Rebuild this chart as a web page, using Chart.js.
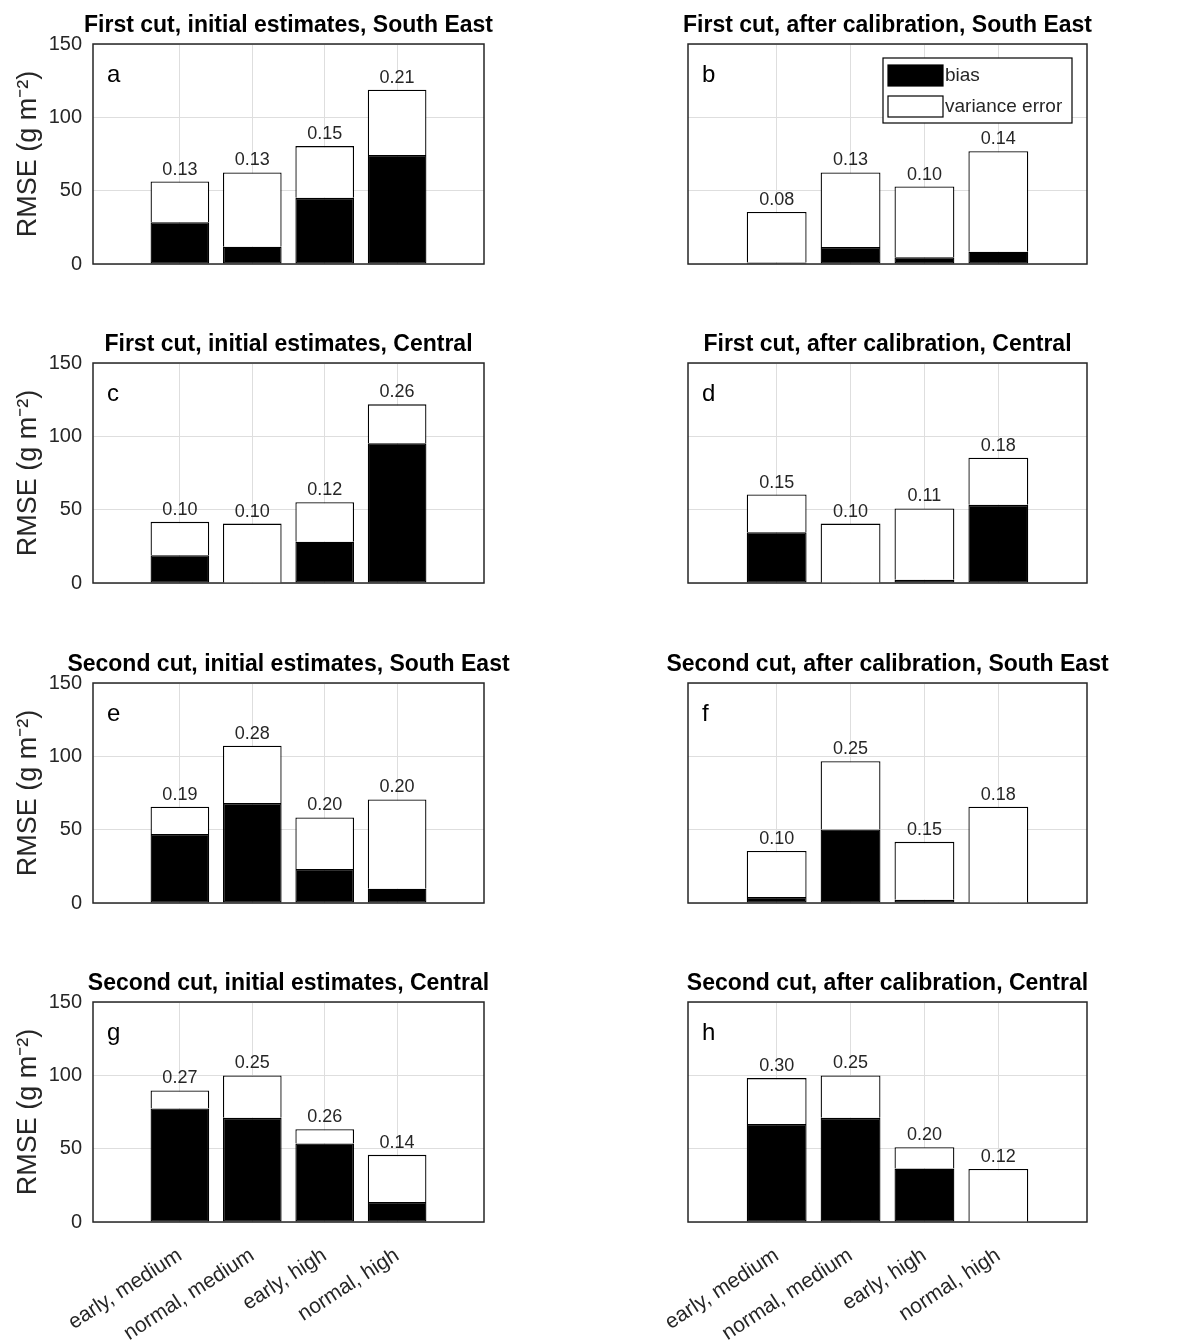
<!DOCTYPE html>
<html lang="en">
<head>
<meta charset="UTF-8">
<title>RMSE: bias and variance error</title>
<script src="https://cdn.jsdelivr.net/npm/chart.js"></script>
<style>
    body {
        margin: 0;
        background: #fff;
        width: 1189px;
        height: 1341px;
        position: relative;
        overflow: hidden;
    }

    .panel {
        position: absolute;
    }
</style>
</head>
<body>

<div class="panel" style="left:0;top:0;width:524px;height:288px"><canvas id="c0"></canvas></div>
<div class="panel" style="left:595px;top:0;width:532px;height:288px"><canvas id="c1"></canvas></div>
<div class="panel" style="left:0;top:319px;width:524px;height:288px"><canvas id="c2"></canvas></div>
<div class="panel" style="left:595px;top:319px;width:532px;height:288px"><canvas id="c3"></canvas></div>
<div class="panel" style="left:0;top:639px;width:524px;height:288px"><canvas id="c4"></canvas></div>
<div class="panel" style="left:595px;top:639px;width:532px;height:288px"><canvas id="c5"></canvas></div>
<div class="panel" style="left:0;top:958px;width:524px;height:383px"><canvas id="c6"></canvas></div>
<div class="panel" style="left:595px;top:958px;width:532px;height:383px"><canvas id="c7"></canvas></div>

<script>
    // data, one row per panel (a..h)
    const categories = ['early, medium', 'normal, medium', 'early, high', 'normal, high'];
    const panelTitles = [
        'First cut, initial estimates, South East',
        'First cut, after calibration, South East',
        'First cut, initial estimates, Central',
        'First cut, after calibration, Central',
        'Second cut, initial estimates, South East',
        'Second cut, after calibration, South East',
        'Second cut, initial estimates, Central',
        'Second cut, after calibration, Central'
    ];
    const panelLetters = ['a', 'b', 'c', 'd', 'e', 'f', 'g', 'h'];

    // total RMSE (top of each bar)
    const rmseTotal = [
        [56.2, 62.4, 80.4, 118.8],
        [35.5, 62.4, 52.8, 76.9],
        [41.7, 40.5, 55.1, 121.8],
        [60.3, 40.5, 50.8, 85.4],
        [65.6, 107.2, 58.3, 70.6],
        [35.5, 96.7, 41.7, 65.6],
        [89.7, 99.9, 63.3, 45.8],
        [98.1, 99.9, 51.0, 36.2]
    ];
    // bias part (black)
    const rmseBias = [
        [28.5, 11.8, 45.1, 74.4],
        [1.1, 11.6, 4.6, 8.4],
        [18.9, 0, 28.2, 95.2],
        [34.6, 0, 2.3, 53.3],
        [47.1, 68.1, 23.2, 9.8],
        [4.1, 50.1, 2.3, 0],
        [77.4, 71.0, 53.5, 13.7],
        [66.9, 71.0, 36.4, 0]
    ];
    // numbers printed above the bars
    const relRmse = [
        ['0.13', '0.13', '0.15', '0.21'],
        ['0.08', '0.13', '0.10', '0.14'],
        ['0.10', '0.10', '0.12', '0.26'],
        ['0.15', '0.10', '0.11', '0.18'],
        ['0.19', '0.28', '0.20', '0.20'],
        ['0.10', '0.25', '0.15', '0.18'],
        ['0.27', '0.25', '0.26', '0.14'],
        ['0.30', '0.25', '0.20', '0.12']
    ];

    const FONT = '"Liberation Sans", Arial, Helvetica, sans-serif';
    const TXT = '#262626';

    // box round the axes, numbers over the bars, panel letter, legend
    const panelMarks = {
        id: 'panelMarks',
        afterLayout(chart) {
            // centre the title on the plot box
            const a = chart.chartArea, t = chart.titleBlock;
            if (!t) return;
            const mid = (a.left + a.right) / 2;
            const half = chart.width / 2 + 60;
            t.left = mid - half;
            t.right = mid + half;
        },
        beforeDatasetsDraw(chart) {
            const {ctx, chartArea: a} = chart;
            ctx.save();
            ctx.strokeStyle = TXT;
            ctx.lineWidth = 1.5;
            ctx.strokeRect(a.left, a.top, a.right - a.left, a.bottom - a.top);
            ctx.restore();
        },
        afterDatasetsDraw(chart, args, opts) {
            const {ctx, chartArea: a} = chart;
            ctx.save();

            // values above bars
            const meta = chart.getDatasetMeta(1);
            ctx.fillStyle = TXT;
            ctx.font = '18px ' + FONT;
            ctx.textAlign = 'center';
            ctx.textBaseline = 'bottom';
            meta.data.forEach((bar, i) => {
                ctx.fillText(opts.labels[i], bar.x, bar.y - 3);
            });

            // panel letter
            ctx.fillStyle = '#000';
            ctx.font = '24px ' + FONT;
            ctx.textAlign = 'left';
            ctx.textBaseline = 'alphabetic';
            ctx.fillText(opts.letter, a.left + 14, a.top + 38);

            if (opts.legend) {
                const w = 189, h = 65;
                const x0 = a.right - 15 - w, y0 = a.top + 14;
                ctx.fillStyle = '#fff';
                ctx.fillRect(x0, y0, w, h);
                ctx.strokeStyle = '#000';
                ctx.lineWidth = 1.2;
                ctx.strokeRect(x0, y0, w, h);
                ctx.font = '19px ' + FONT;
                ctx.textBaseline = 'middle';
                chart.data.datasets.forEach((ds, j) => {
                    const sy = y0 + 7 + j * 31;
                    ctx.fillStyle = ds.backgroundColor;
                    ctx.fillRect(x0 + 5, sy, 55, 21);
                    ctx.strokeStyle = ds.borderColor;
                    ctx.strokeRect(x0 + 5, sy, 55, 21);
                    ctx.fillStyle = TXT;
                    ctx.fillText(ds.label, x0 + 62, sy + 11);
                });
            }
            ctx.restore();
        }
    };

    function makeChart(k) {
        const leftCol = k % 2 === 0;
        const lastRow = k >= 6;

        new Chart(document.getElementById('c' + k).getContext('2d'), {
            type: 'bar',
            data: {
                datasets: [
                    {
                        label: 'bias',
                        data: rmseBias[k].map((v, i) => ({x: i + 1, y: v})),
                        backgroundColor: '#000000',
                        borderColor: '#000000',
                        borderWidth: 1.3,
                        borderSkipped: false,
                        inflateAmount: 0
                    },
                    {
                        label: 'variance error',
                        data: rmseTotal[k].map((v, i) => ({x: i + 1, y: [rmseBias[k][i], v]})),
                        backgroundColor: '#ffffff',
                        borderColor: '#000000',
                        borderWidth: 1.3,
                        borderSkipped: 'start',
                        inflateAmount: 0
                    }
                ]
            },
            options: {
                responsive: true,
                maintainAspectRatio: false,
                animation: false,
                layout: {padding: {top: 12, left: 0, right: 40, bottom: 0}},
                datasets: {bar: {grouped: false, categoryPercentage: 1, barPercentage: 0.81}},
                plugins: {
                    legend: {display: false},
                    tooltip: {enabled: false},
                    title: {
                        display: true,
                        text: panelTitles[k],
                        color: '#000',
                        font: {family: FONT, size: 23, weight: 'bold', lineHeight: '28px'},
                        padding: {top: 0, bottom: 4}
                    },
                    panelMarks: {labels: relRmse[k], letter: panelLetters[k], legend: k === 1}
                },
                scales: {
                    x: {
                        type: 'linear',
                        min: -0.2,
                        max: 5.2,
                        offset: false,
                        afterBuildTicks: s => {
                            s.ticks = categories.map((c, i) => ({value: i + 1}));
                        },
                        afterFit: s => {
                            s.height = lastRow ? 119 : 24;
                        },
                        grid: {color: '#dedede', drawTicks: false, offset: false},
                        border: {display: false},
                        ticks: {
                            display: lastRow,
                            autoSkip: false,
                            minRotation: 33,
                            maxRotation: 33,
                            padding: 21,
                            color: TXT,
                            font: {family: FONT, size: 21},
                            callback: v => categories[v - 1]
                        }
                    },
                    y: {
                        min: 0,
                        max: 150,
                        afterFit: s => {
                            s.width = 93;
                        },
                        grid: {color: '#dedede', drawTicks: false},
                        border: {display: false},
                        ticks: {
                            display: leftCol,
                            stepSize: 50,
                            padding: 11,
                            color: TXT,
                            font: {family: FONT, size: 20}
                        },
                        title: {
                            display: leftCol,
                            text: 'RMSE (g m⁻²)',
                            color: TXT,
                            font: {family: FONT, size: 27},
                            padding: {top: 12, bottom: 0}
                        }
                    }
                }
            },
            plugins: [panelMarks]
        });
    }

    for (let k = 0; k < 8; k++) makeChart(k);
</script>

</body>
</html>
